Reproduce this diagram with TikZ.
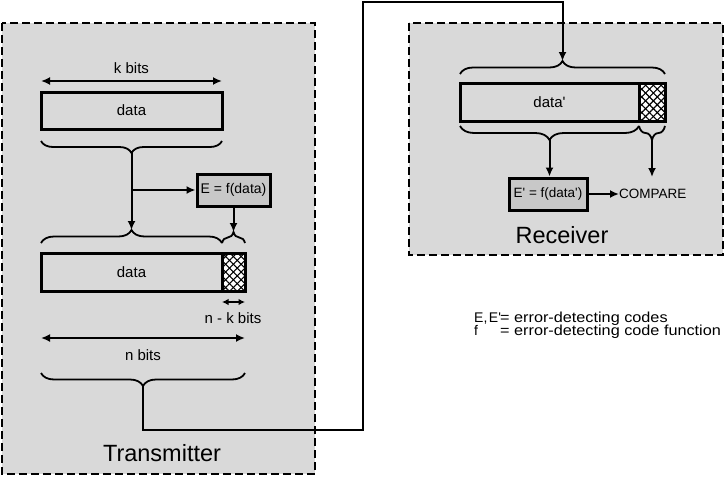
\documentclass[tikz,border=0pt]{standalone}
\usepackage{fontspec}
\setmainfont{Liberation Sans}
\newfontfamily\legendfont[FakeStretch=1.12]{Liberation Sans}
\usetikzlibrary{arrows.meta,patterns.meta,decorations.pathreplacing}
\definecolor{panel}{RGB}{217,217,217}
\definecolor{fnfill}{RGB}{200,200,200}
\newcommand{\q}{\textquotesingle}
\begin{document}
\begin{tikzpicture}[x=1pt,y=-1pt,
  panelbox/.style={draw,fill=panel,line width=2.2pt,dash pattern=on 8pt off 4pt},
  databox/.style={draw,line width=3pt,fill=panel},
  hatchbox/.style={draw,line width=3pt,fill=white,
     postaction={pattern={Lines[angle=45,distance=5.5pt,line width=1.1pt]}},
     postaction={pattern={Lines[angle=-45,distance=5.5pt,line width=1.1pt]}}},
  fnbox/.style={draw,line width=3pt,fill=fnfill,inner sep=0pt},
  arr/.style={line width=2pt,-{Latex[length=9pt,width=8pt]}},
  darr/.style={line width=2pt,{Latex[length=9pt,width=8pt]}-{Latex[length=9pt,width=8pt]}},
  sdarr/.style={line width=1.8pt,{Latex[length=6.5pt,width=6.5pt]}-{Latex[length=6.5pt,width=6.5pt]}},
  brcup/.style={decorate,decoration={brace,amplitude=#1},line width=1.8pt},
  brcdown/.style={decorate,decoration={brace,mirror,amplitude=#1},line width=1.8pt},
  lbl/.style={font=\fontsize{15}{18}\selectfont,inner sep=0pt},
  fnlbl/.style={font=\fontsize{14}{16}\selectfont},
  title/.style={font=\fontsize{23.5}{28}\selectfont,inner sep=0pt},
  lgd/.style={font=\legendfont\fontsize{14.5}{16}\selectfont,inner sep=0pt,anchor=base west},
  lgdkey/.style={font=\fontsize{14}{16}\selectfont,inner sep=0pt,anchor=base west}
]
\useasboundingbox (0,0) rectangle (725,482);

% panels
\draw[panelbox] (2,23) rectangle (315,474);
\draw[panelbox] (409,23) rectangle (723,255);

% ---------- Transmitter ----------
\coordinate (k1) at (41,81);
\coordinate (k2) at (222,81);
\draw[darr] (k1) -- (k2);
\node[lbl] (kbits) at (131.5,68) {k bits};

\draw[databox] (41,92) rectangle (222,129);
\node[lbl] (data1) at (131.5,110.5) {data};

\draw[brcdown=12pt] (41,141) -- (222,141);
\coordinate (tip1) at (131.5,153);
\coordinate (tip2) at (131.5,230);
\coordinate (br) at (131.5,190);

\node[fnbox,minimum width=73pt,minimum height=32pt,fnlbl] (E) at (233.5,190) {E = f(data)};
\coordinate (tip3) at (233.5,232);

\draw[line width=2pt] (tip1) -- (br);
\draw[arr] (br) -- (tip2);
\draw[arr] (br) -- (E.west);
\draw[arr] (E.south) -- (tip3);

\draw[brcup=13pt] (41,243) -- (222,243);
\draw[brcup=11pt] (222,243) -- (245,243);

\draw[databox] (41,253) rectangle (222,291);
\draw[hatchbox] (222,253) rectangle (245,291);
\node[lbl] (data2) at (131.5,272) {data};

\coordinate (nk1) at (222,302);
\coordinate (nk2) at (245,302);
\draw[sdarr] (nk1) -- (nk2);
\node[lbl] (nkbits) at (233,318) {n - k bits};

\coordinate (n1) at (41,338);
\coordinate (n2) at (245,338);
\draw[darr] (n1) -- (n2);
\node[lbl] (nbits) at (143,355) {n bits};

\draw[brcdown=13pt] (41,373) -- (245,373);
\coordinate (tip4) at (143,386);

\node[title] (tx) at (162,453) {Transmitter};

% ---------- Receiver ----------
\draw[brcup=13pt] (460,74) -- (665,74);
\coordinate (rtip) at (562.5,61);

\draw[arr] (tip4) -- (143,430) -| (363,2) -| (rtip);

\draw[databox] (460,83) rectangle (639,121);
\draw[hatchbox] (639,83) rectangle (665,121);
\node[lbl] (data3) at (549.5,102) {data\q};

\draw[brcdown=14pt] (460,126) -- (639,126);
\draw[brcdown=14pt] (639,126) -- (665,126);
\coordinate (tip5) at (549.5,140);
\coordinate (tip6) at (652,140);

\node[fnbox,minimum width=78pt,minimum height=32pt,font=\fontsize{13.5}{16}\selectfont] (E2) at (548,194) {E\q{} = f(data\q)};
\node[font=\fontsize{13.5}{16}\selectfont,inner sep=0pt,anchor=west] (cmp) at (619,194) {COMPARE};
\coordinate (cmptop) at (652,177);

\draw[arr] (tip5) -- (tip5 |- E2.north);
\draw[arr] (E2.east) -- (cmp.west);
\draw[arr] (tip6) -- (cmptop);

\node[title] (rx) at (562,235) {Receiver};

% ---------- Legend ----------
\node[lgdkey] (l1a) at (474,322) {E,\kern1.5pt E\q};
\node[lgd] (l1b) at (500,322) {= error-detecting codes};
\node[lgdkey] (l2a) at (474,335) {f};
\node[lgd] (l2b) at (500,335) {= error-detecting code function};
\end{tikzpicture}
\end{document}
